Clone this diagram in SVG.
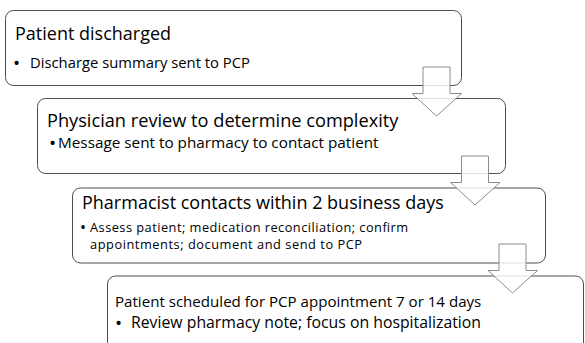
<svg xmlns="http://www.w3.org/2000/svg" xmlns:xlink="http://www.w3.org/1999/xlink" width="585" height="343" viewBox="0 0 585 343">
<style>
.box{fill:#ffffff;stroke:#4d4d4d;stroke-width:1}
.arr{fill:#ffffff;fill-opacity:0.82;stroke:#8c8c8c;stroke-width:1}
text{font-family:"Open Sans","Noto Sans","Liberation Sans",sans-serif;fill:#000000}
.bul{font-size:19px}
</style>
<defs>
<path id="arrow" d="M0,0 H27 V26.5 H38.5 L13.5,49 L-11,26.5 H0 Z"/>
</defs>
<rect width="585" height="343" fill="#ffffff"/>
<g id="node1">
<rect class="box" x="5.5" y="10.5" width="456" height="75" rx="8"/>
<text x="15" y="39.5" font-size="18">Patient discharged</text>
<text class="bul" x="13" y="69.5">•</text>
<text x="30" y="68" font-size="14.8">Discharge summary sent to PCP</text>
</g>
<g id="node2">
<rect class="box" x="37.5" y="98.5" width="468" height="75" rx="8"/>
<text x="47" y="127" font-size="18.2">Physician review to determine complexity</text>
<text class="bul" x="49" y="149.5">•</text>
<text x="58" y="148" font-size="15.3">Message sent to pharmacy to contact patient</text>
</g>
<g id="node3">
<rect class="box" x="72.5" y="188" width="473" height="75" rx="8"/>
<text x="82" y="209" font-size="18">Pharmacist contacts within 2 business days</text>
<text x="80" y="232.5" font-size="16">•</text>
<text x="90" y="231.5" font-size="12.8" textLength="318" lengthAdjust="spacing">Assess patient; medication reconciliation; confirm</text>
<text x="90" y="249" font-size="12.8" textLength="272" lengthAdjust="spacing">appointments; document and send to PCP</text>
</g>
<g id="node4">
<rect class="box" x="107.5" y="276" width="476" height="90" rx="8"/>
<text x="115" y="307" font-size="15.1">Patient scheduled for PCP appointment 7 or 14 days</text>
<text class="bul" x="115" y="329.5">•</text>
<text x="131" y="328" font-size="15.8">Review pharmacy note; focus on hospitalization</text>
</g>
<g id="connectors">
<use xlink:href="#arrow" class="arr" x="423" y="67"/>
<use xlink:href="#arrow" class="arr" x="461.5" y="156"/>
<use xlink:href="#arrow" class="arr" x="499" y="244"/>
</g>
</svg>
